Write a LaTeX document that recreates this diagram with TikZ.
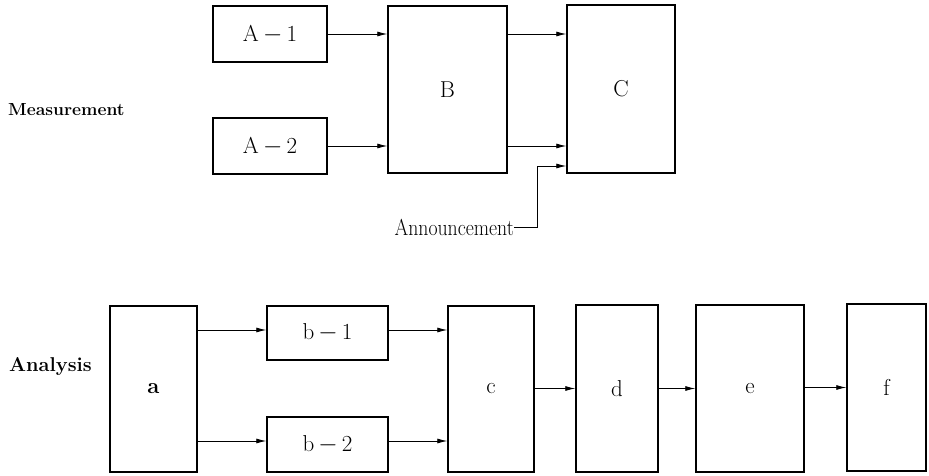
\documentclass[tikz,border=0pt]{standalone}
\usetikzlibrary{arrows.meta}
\begin{document}
\begin{tikzpicture}[x=1pt,y=-1pt,
  blk/.style={draw,line width=1.5pt,inner sep=0pt,font=\fontsize{23}{26}\selectfont},
  arr/.style={line width=0.8pt,-{Latex[length=10pt,width=5pt]}},
  side/.style={anchor=west,inner sep=0pt,font=\bfseries}]
\useasboundingbox (0,0) rectangle (929,476);
% Measurement
\node[side,font=\fontsize{17.5}{20}\selectfont\bfseries] (meas) at (8,110) {Measurement};
\node[blk,minimum width=114pt,minimum height=56pt] (A1) at (270,34) {A$\,-\,$1};
\node[blk,minimum width=114pt,minimum height=56pt] (A2) at (270,146) {A$\,-\,$2};
\node[blk,minimum width=119pt,minimum height=167pt] (B) at (447.5,89.5) {B};
\node[blk,minimum width=108pt,minimum height=168pt] (C) at (621,89) {C};
\draw[arr] (A1.east) -- (A1.east -| B.west);
\draw[arr] (A2.east) -- (A2.east -| B.west);
\draw[arr] (B.east |- A1.east) -- (C.west |- A1.east);
\draw[arr] (B.east |- A2.east) -- (C.west |- A2.east);
\node[anchor=east,inner sep=0pt] (ann) at (514,227) {\scalebox{0.86}[1]{\fontsize{23}{25}\selectfont Announcement}};
\coordinate (k) at (537,166);
\draw[arr] (ann.east) -| (k) -- (k -| C.west);
% Analysis
\node[side,font=\fontsize{20}{23}\selectfont\bfseries] (anal) at (9,366) {Analysis};
\node[blk,minimum width=87pt,minimum height=166pt,font=\fontsize{22}{24}\selectfont\bfseries] (a) at (153.5,389) {a};
\node[blk,minimum width=121pt,minimum height=54pt] (b1) at (327.5,333) {b$\,-\,$1};
\node[blk,minimum width=121pt,minimum height=55pt] (b2) at (327.5,444.5) {b$\,-\,$2};
\node[blk,minimum width=86pt,minimum height=166pt] (c) at (491,389) {c};
\node[blk,minimum width=82pt,minimum height=167pt] (d) at (617,388.5) {d};
\node[blk,minimum width=108pt,minimum height=167pt] (e) at (750,388.5) {e};
\node[blk,minimum width=79pt,minimum height=167pt] (f) at (886.5,387.5) {f};
\coordinate (r1) at (0,330);
\coordinate (r2) at (0,441);
\draw[arr] (a.east |- r1) -- (b1.west |- r1);
\draw[arr] (a.east |- r2) -- (b2.west |- r2);
\draw[arr] (b1.east |- r1) -- (c.west |- r1);
\draw[arr] (b2.east |- r2) -- (c.west |- r2);
\draw[arr] (c.east |- d.west) -- (d.west);
\draw[arr] (d.east) -- (e.west);
\draw[arr] (e.east |- f.west) -- (f.west);
\end{tikzpicture}
\end{document}
